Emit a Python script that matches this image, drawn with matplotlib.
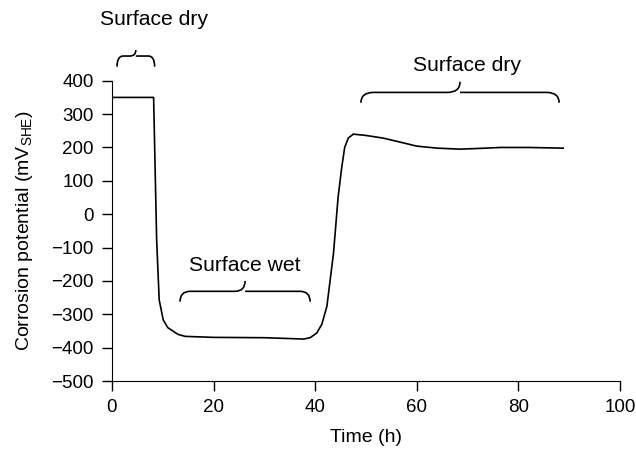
import matplotlib
matplotlib.use("Agg")
import matplotlib.pyplot as plt
from matplotlib.path import Path
from matplotlib.patches import PathPatch

# Corrosion potential vs time through a dry/wet/dry cycle
time_h = [0, 8.2, 8.8, 9.3, 10.1, 11.0, 12.1, 13.0, 14.4, 20, 30, 37.7, 39.0,
          40.3, 41.3, 42.3, 43.6, 44.5, 45.2, 45.8, 46.5, 47.5, 50, 53.4, 57,
          60, 64, 68.5, 72, 76.4, 82, 88.8]
potential = [350, 350, -77, -257, -317, -340, -351, -360, -366, -369, -370,
             -374, -370, -356, -330, -276, -117, 50, 138, 200, 228, 240, 236,
             228, 215, 204, 198, 195, 197, 200, 200, 198]

# brace spans (h) and their labels
brace_labels = ["Surface dry", "Surface wet", "Surface dry"]
brace_x0 = [1.0, 13.4, 49.0]
brace_x1 = [8.4, 39.0, 88.0]

plt.rcParams['font.family'] = ['Liberation Sans', 'DejaVu Sans']
plt.rcParams['mathtext.fontset'] = 'custom'
plt.rcParams['mathtext.rm'] = 'Liberation Sans'

fig = plt.figure(figsize=(6.36, 4.51), dpi=100)
ax = fig.add_axes([0.176, 0.155, 0.799, 0.666])

ax.plot(time_h, potential, color='black', lw=1.2)

ax.set_xlim(0, 100)
ax.set_ylim(-500, 400)
ax.set_xticks(range(0, 101, 20))
ax.set_yticks(range(-500, 401, 100))
ax.set_yticklabels([str(v).replace('-', '\u2212') for v in range(-500, 401, 100)])
ax.tick_params(direction='out', length=7, width=1, pad=6, labelsize=13.5, colors='black')
ax.spines['top'].set_visible(False)
ax.spines['right'].set_visible(False)
ax.set_xlabel("Time (h)", fontsize=14, labelpad=9)
ax.set_ylabel(r"Corrosion potential (mV$_\mathregular{SHE}$)", fontsize=14, labelpad=12)


def brace(ax, x0, x1, y_tip, y_line, y_peak, r):
    # curly brace made of quadratic curves, in data coords
    xm = (x0 + x1) / 2
    verts = [(x0, y_tip), (x0, y_line), (x0 + r, y_line),
             (xm - r, y_line),
             (xm, y_line), (xm, y_peak),
             (xm, y_line), (xm + r, y_line),
             (x1 - r, y_line),
             (x1, y_line), (x1, y_tip)]
    codes = [Path.MOVETO, Path.CURVE3, Path.CURVE3,
             Path.LINETO,
             Path.CURVE3, Path.CURVE3,
             Path.MOVETO, Path.CURVE3,
             Path.LINETO,
             Path.CURVE3, Path.CURVE3]
    patch = PathPatch(Path(verts, codes), facecolor='none', edgecolor='black',
                      lw=1.2, clip_on=False)
    ax.add_patch(patch)


brace(ax, brace_x0[0], brace_x1[0], 442, 474, 492, 1.2)
brace(ax, brace_x0[1], brace_x1[1], -262, -231, -200, 2.0)
brace(ax, brace_x0[2], brace_x1[2], 334, 365, 397, 2.5)

ax.text(8.3, 582, brace_labels[0], ha='center', va='center', fontsize=15.2, clip_on=False)
ax.text(26.2, -155, brace_labels[1], ha='center', va='center', fontsize=15.2)
ax.text(69.8, 447, brace_labels[2], ha='center', va='center', fontsize=15.2, clip_on=False)

fig.savefig("out.png", dpi=100)
